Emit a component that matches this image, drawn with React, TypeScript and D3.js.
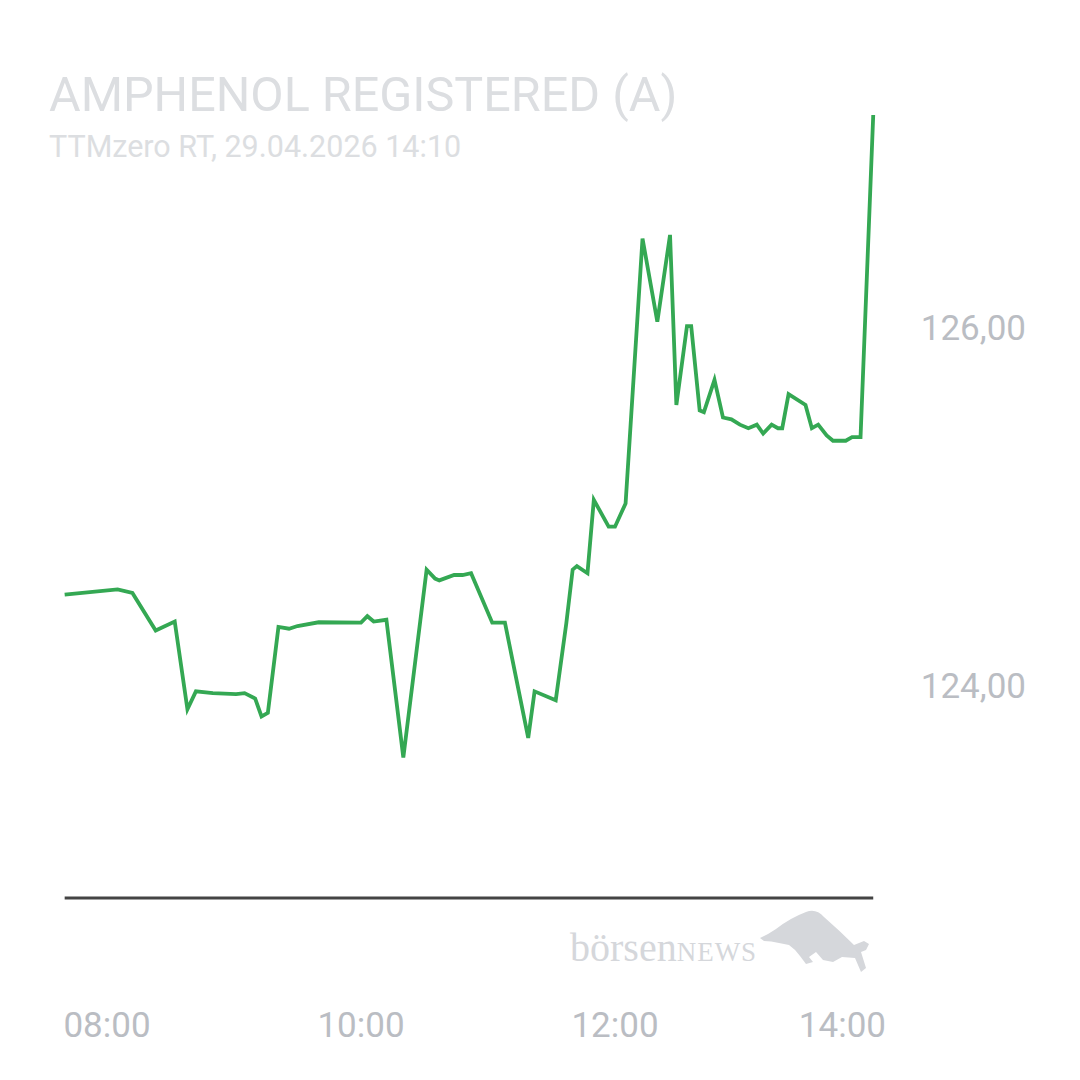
import React from "react";
import * as d3 from "d3";

const TITLE = "AMPHENOL REGISTERED (A)";
const SUBTITLE = "TTMzero RT, 29.04.2026 14:10";

const times = [
  "07:40", "08:05", "08:12", "08:23", "08:32", "08:38", "08:42", "08:50", "09:01", "09:05",
  "09:10", "09:13", "09:16", "09:21", "09:26", "09:30", "09:40", "10:00", "10:03", "10:06",
  "10:12", "10:20", "10:31", "10:35", "10:37", "10:44", "10:48", "10:52", "11:02", "11:08",
  "11:19", "11:22", "11:32", "11:37", "11:40", "11:42", "11:47", "11:50", "11:57", "12:00",
  "12:05", "12:13", "12:20", "12:26", "12:29", "12:34", "12:36", "12:40", "12:42", "12:47",
  "12:51", "12:55", "12:59", "13:03", "13:07", "13:10", "13:14", "13:17", "13:19", "13:22",
  "13:30", "13:33", "13:36", "13:40", "13:43", "13:49", "13:52", "13:56", "14:02",
];

const prices = [
  124.51, 124.54, 124.52, 124.31, 124.36, 123.87, 123.97, 123.96, 123.955, 123.96,
  123.93, 123.83, 123.85, 124.33, 124.32, 124.335, 124.356, 124.354, 124.39, 124.36,
  124.37, 123.6, 124.65, 124.6, 124.59, 124.62, 124.62, 124.63, 124.354, 124.354,
  123.71, 123.97, 123.92, 124.35, 124.65, 124.67, 124.63, 125.04, 124.89, 124.89,
  125.02, 126.5, 126.035, 126.52, 125.57, 126.01, 126.01, 125.54, 125.53, 125.71,
  125.5, 125.49, 125.46, 125.44, 125.46, 125.41, 125.46, 125.44, 125.44, 125.63,
  125.57, 125.44, 125.46, 125.4, 125.37, 125.37, 125.39, 125.39, 127.19,
];

const yTicks = [124, 126];
const xTicks = ["08:00", "10:00", "12:00", "14:00"];

const parse = d3.timeParse("%H:%M");

export default function App() {
  const W = 1080;
  const H = 1080;
  const x = d3
    .scaleTime()
    .domain([parse("08:00") as Date, parse("14:00") as Date])
    .range([107, 869]);
  const y = d3.scaleLinear().domain([124, 126]).range([686, 328]);

  const data = times.map((t, i) => ({ t: parse(t) as Date, v: prices[i] }));
  const line = d3
    .line<{ t: Date; v: number }>()
    .x((d) => x(d.t))
    .y((d) => y(d.v));

  const x0 = x(data[0].t);
  const x1 = x(data[data.length - 1].t);
  const fmt = (v: number) => v.toFixed(2).replace(".", ",");
  const rightLimit = 886;

  return (
    <svg
      width={W}
      height={H}
      viewBox={`0 0 ${W} ${H}`}
      style={{ position: "absolute", left: 0, top: 0, background: "#fff" }}
    >
      <rect x={0} y={0} width={W} height={H} fill="#fff" />
      <text x={49} y={111} fontFamily="Roboto" fontSize={48.5} fill="#dcdee1">
        {TITLE}
      </text>
      <text x={49} y={157} fontFamily="Roboto" fontSize={30.5} fill="#dcdee1">
        {SUBTITLE}
      </text>

      {yTicks.map((v) => (
        <text
          key={v}
          x={1026}
          y={y(v)}
          dy="0.35em"
          textAnchor="end"
          fontFamily="Roboto"
          fontSize={35}
          fill="#babdc3"
        >
          {fmt(v)}
        </text>
      ))}

      {xTicks.map((t) => {
        const px = x(parse(t) as Date);
        const half = 44;
        const clamped = px + half > rightLimit;
        return (
          <text
            key={t}
            x={clamped ? rightLimit : px}
            y={1037}
            textAnchor={clamped ? "end" : "middle"}
            fontFamily="Roboto"
            fontSize={35}
            fill="#babdc3"
          >
            {t}
          </text>
        );
      })}

      <line x1={x0} x2={x1} y1={898} y2={898} stroke="#444" strokeWidth={3} />

      <g fill="#d5d7db">
        <text x={570} y={961} fontFamily="'Liberation Serif', serif" fontSize={40}>
          börsen
          <tspan fontSize={27} letterSpacing={1}>
            NEWS
          </tspan>
        </text>
        <path d="M760,938 L768,934 L776,929 Q790,918 806,912 Q816,908 824,917 Q840,931 854,945 L864,941 L869,944 L866,950 L861,952 L866,968 L861,972 L855,958 L842,957 L833,962 L823,960 L816,952 L809,957 L813,962 L806,964 L800,956 Q795,949 789,945 L779,943 Q771,941 764,941 Z" />
      </g>

      <path
        d={line(data) || ""}
        fill="none"
        stroke="#34a853"
        strokeWidth={3.8}
        strokeLinejoin="miter"
      />
    </svg>
  );
}
